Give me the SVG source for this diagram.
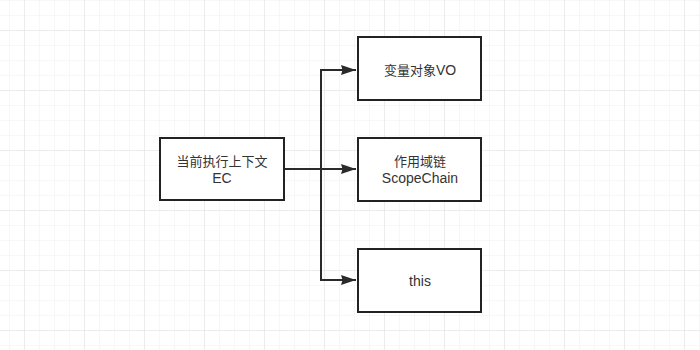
<svg xmlns="http://www.w3.org/2000/svg" width="700" height="350" viewBox="0 0 700 350">
<defs>
<pattern id="minor" x="9" y="0" width="15" height="15" patternUnits="userSpaceOnUse">
<path d="M0 0V15M0 0H15" fill="none" stroke="#f0f0f0" stroke-width="1"/>
</pattern>
<pattern id="major" x="24" y="30" width="60" height="60" patternUnits="userSpaceOnUse">
<path d="M0 0V60M0 0H60" fill="none" stroke="#e2e2e2" stroke-width="1"/>
</pattern>
<marker id="arr" viewBox="0 0 15 11" refX="15" refY="5.5" markerWidth="15" markerHeight="11" markerUnits="userSpaceOnUse" orient="auto">
<path d="M0 0.5L15 5.5L0 10.5L1.5 5.5Z" fill="#2a2a2a"/>
</marker>
</defs>
<style>
.box{fill:#fff;stroke:#222;stroke-width:2}
.t{font-family:"Liberation Sans","Noto Sans CJK SC",sans-serif;font-size:13px;fill:#333;text-anchor:middle}
.l{font-size:14px}
.c{fill:none;stroke:#2a2a2a;stroke-width:2}
</style>
<rect width="700" height="350" fill="#fff"/>
<rect width="700" height="350" fill="url(#minor)"/>
<rect width="700" height="350" fill="url(#major)"/>
<g id="connectors">
<path class="c" d="M284 169H356" marker-end="url(#arr)"/>
<path class="c" d="M321 169V70H356" marker-end="url(#arr)"/>
<path class="c" d="M321 169V280H356" marker-end="url(#arr)"/>
</g>
<g id="ec">
<rect class="box" x="160" y="138" width="124" height="62"/>
<text class="t" x="222" y="166">当前执行上下文</text>
<text class="t l" x="222" y="183">EC</text>
</g>
<g id="vo">
<rect class="box" x="358" y="37" width="123" height="63"/>
<text class="t" x="420" y="75">变量对象<tspan class="l">VO</tspan></text>
</g>
<g id="scope">
<rect class="box" x="358" y="138" width="123" height="63"/>
<text class="t" x="420" y="166">作用域链</text>
<text class="t l" x="420" y="183">ScopeChain</text>
</g>
<g id="this">
<rect class="box" x="358" y="249" width="123" height="63"/>
<text class="t l" x="420" y="286">this</text>
</g>
</svg>
